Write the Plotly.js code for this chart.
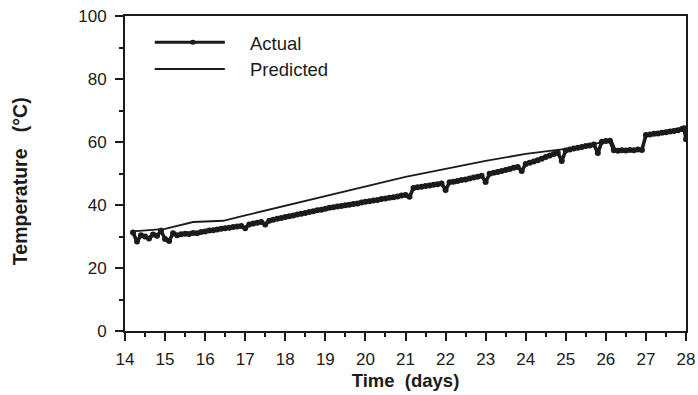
<!DOCTYPE html>
<html>
<head>
<meta charset="utf-8">
<script src="https://cdn.plot.ly/plotly-3.0.1.min.js"></script>
<style>html,body{margin:0;padding:0;background:#fff;}#chart{width:698px;height:395px;}</style>
</head>
<body>
<div id="chart"></div>
<script>
// Time (days) of Actual readings
const actualDays = [
 14.2,14.3,14.4,14.5,14.6,14.7,14.8,14.9,15.0,
 15.1,15.2,15.3,15.4,15.5,15.6,15.7,15.8,15.9,16.0,
 16.1,16.2,16.3,16.4,16.5,16.6,16.7,16.8,16.9,17.0,
 17.1,17.2,17.3,17.4,17.5,17.6,17.7,17.8,17.9,18.0,
 18.1,18.2,18.3,18.4,18.5,18.6,18.7,18.8,18.9,19.0,
 19.1,19.2,19.3,19.4,19.5,19.6,19.7,19.8,19.9,20.0,
 20.1,20.2,20.3,20.4,20.5,20.6,20.7,20.8,20.9,21.0,
 21.1,21.2,21.3,21.4,21.5,21.6,21.7,21.8,21.9,22.0,
 22.1,22.2,22.3,22.4,22.5,22.6,22.7,22.8,22.9,23.0,
 23.1,23.2,23.3,23.4,23.5,23.6,23.7,23.8,23.9,24.0,
 24.1,24.2,24.3,24.4,24.5,24.6,24.7,24.8,24.9,25.0,
 25.1,25.2,25.3,25.4,25.5,25.6,25.7,25.8,25.9,26.0,
 26.1,26.2,26.3,26.4,26.5,26.6,26.7,26.8,26.9,27.0,
 27.1,27.2,27.3,27.4,27.5,27.6,27.7,27.8,27.9,27.95,28.0
];
// Actual temperature (°C)
const actualTemp = [
 31.3,28.4,30.4,30.0,29.4,30.6,30.2,31.8,29.2,
 28.6,31.0,30.4,30.7,30.9,30.8,31.1,31.0,31.4,31.6,
 31.9,32.0,32.2,32.5,32.6,32.8,33.0,33.2,33.3,32.6,
 33.8,34.1,34.4,34.6,33.8,35.0,35.3,35.6,35.9,36.2,
 36.4,36.7,37.0,37.2,37.5,37.8,38.0,38.3,38.5,38.8,
 39.1,39.3,39.5,39.7,39.9,40.1,40.3,40.5,40.8,41.0,
 41.2,41.4,41.6,41.9,42.1,42.3,42.5,42.7,43.0,43.2,
 42.6,45.4,45.6,45.8,46.0,46.2,46.4,46.6,46.8,44.8,
 47.2,47.4,47.6,47.9,48.1,48.4,48.7,49.0,49.3,47.3,
 49.9,50.2,50.5,50.8,51.1,51.4,51.8,52.1,50.8,53.0,
 53.4,53.8,54.2,54.7,55.2,55.7,56.2,56.6,54.0,57.3,
 57.6,57.9,58.2,58.4,58.7,58.9,59.2,56.5,60.1,60.3,
 60.4,57.4,57.2,57.4,57.3,57.5,57.4,57.6,57.5,62.2,
 62.4,62.6,62.7,62.9,63.1,63.3,63.5,63.7,64.1,64.4,60.9
];
// Predicted curve
const predictedDays = [14.2,15.0,15.7,16.45,17.0,18.0,19.0,20.0,21.0,22.0,23.0,24.0,24.5,25.0,25.5,26.0,26.15,26.25,26.9,27.0,28.0];
const predictedTemp = [31.6,32.4,34.6,35.0,36.7,39.8,42.9,46.0,48.9,51.5,54.0,56.2,57.0,57.8,59.0,60.2,60.4,57.3,57.5,62.3,64.2];

const xTicks = [14,15,16,17,18,19,20,21,22,23,24,25,26,27,28];
const yTicks = [0,20,40,60,80,100];
const seriesNames = ['Actual','Predicted'];

const ink = '#1b1b1b';
const FONT = '"Liberation Sans", Arial, Helvetica, sans-serif';

const traces = [
 {x: predictedDays, y: predictedTemp, name: seriesNames[1], type:'scatter', mode:'lines',
  line:{color:ink, width:1.8}, showlegend:false, hoverinfo:'skip'},
 {x: actualDays, y: actualTemp, name: seriesNames[0], type:'scatter', mode:'lines+markers',
  line:{color:ink, width:3.6}, marker:{color:ink, size:6}, showlegend:false, hoverinfo:'skip'}
];

const layout = {
 width:698, height:395,
 margin:{l:125, r:12, t:16, b:64},
 paper_bgcolor:'#fff', plot_bgcolor:'#fff',
 font:{family:FONT, color:ink, size:17},
 showlegend:false,
 xaxis:{
  range:[14,28], tickvals:xTicks, ticktext:xTicks.map(String),
  ticks:'outside', ticklen:8, tickwidth:2, tickcolor:ink,
  minor:{dtick:0.5, ticks:'outside', ticklen:4, tickwidth:2, tickcolor:ink, showgrid:false},
  showline:true, linewidth:2, linecolor:ink, mirror:true,
  showgrid:false, zeroline:false, ticklabelstandoff:4,
  tickfont:{family:FONT, size:17, color:ink},
  title:{text:'<b>Time  (days)</b>', font:{family:FONT, size:18.5, color:ink}, standoff:6}
 },
 yaxis:{
  range:[0,100], tickvals:yTicks, ticktext:yTicks.map(String),
  ticks:'outside', ticklen:8, tickwidth:2, tickcolor:ink,
  minor:{dtick:10, ticks:'outside', ticklen:4, tickwidth:2, tickcolor:ink, showgrid:false},
  showline:true, linewidth:2, linecolor:ink, mirror:true,
  showgrid:false, zeroline:false, ticklabelstandoff:5,
  tickfont:{family:FONT, size:17, color:ink}
 },
 shapes:[
  {type:'line', xref:'paper', yref:'paper', x0:0.053, x1:0.178, y0:0.917, y1:0.917, line:{color:ink, width:3}},
  {type:'circle', xref:'paper', yref:'paper', x0:0.116, x1:0.126, y0:0.909, y1:0.925, fillcolor:ink, line:{color:ink, width:0}},
  {type:'line', xref:'paper', yref:'paper', x0:0.053, x1:0.178, y0:0.832, y1:0.832, line:{color:ink, width:2}}
 ],
 annotations:[
  {text:seriesNames[0], xref:'paper', yref:'paper', x:0.219, y:0.914, xanchor:'left', yanchor:'middle', showarrow:false, font:{family:FONT, size:18.5, color:ink}},
  {text:seriesNames[1], xref:'paper', yref:'paper', x:0.219, y:0.829, xanchor:'left', yanchor:'middle', showarrow:false, font:{family:FONT, size:18.5, color:ink}},
  {text:'<b>Temperature   (°C)</b>', xref:'paper', yref:'paper', x:-0.187, y:0.476, xanchor:'center', yanchor:'middle', textangle:-90, showarrow:false, font:{family:FONT, size:19.5, color:ink}}
 ]
};

Plotly.newPlot('chart', traces, layout, {staticPlot:true, displayModeBar:false});
</script>
</body>
</html>
